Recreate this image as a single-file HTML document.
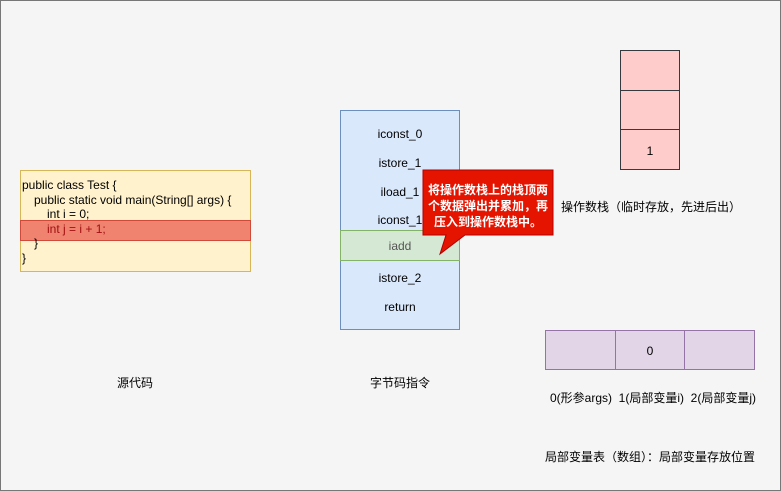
<!DOCTYPE html>
<html><head><meta charset="utf-8"><style>
body{margin:0;width:781px;height:491px;background:#f5f5f5;font-family:"Liberation Sans","Noto Sans CJK SC",sans-serif;font-size:12px;color:#000;overflow:hidden}
.a{position:absolute}
.frame{position:absolute;left:0;top:0;width:779px;height:489px;border:1px solid #777}
.c{position:absolute;text-align:center}
.code div{height:14.5px;white-space:nowrap}
</style></head><body>
<div class="frame"></div>
<!-- code box -->
<div class="a" style="left:20px;top:170px;width:229px;height:100px;background:#fff2cc;border:1px solid #d6b656"></div>
<div class="a" style="left:20px;top:220px;width:229px;height:19px;background:#f08370;border:1px solid #d04a3a"></div>
<div class="a code" style="left:22px;top:178px;line-height:14.5px;font-size:12px">
<div>public class Test {</div>
<div style="padding-left:12px">public static void main(String[] args) {</div>
<div style="padding-left:25px">int i = 0;</div>
<div style="padding-left:25px;color:#a01010">int j = i + 1;</div>
<div style="padding-left:12px">}</div>
<div>}</div>
</div>
<div class="c" style="left:100px;top:374px;width:70px">源代码</div>
<!-- bytecode -->
<div class="a" style="left:340px;top:110px;width:120px;height:220px;background:#dae8fc;border:1px solid #6c8ebf;box-sizing:border-box"></div>
<div class="a" style="left:340px;top:230px;width:120px;height:31px;background:#d5e8d4;border:1px solid #82b366;box-sizing:border-box"></div>
<div class="c" style="left:340px;top:127px;width:120px">iconst_0</div>
<div class="c" style="left:340px;top:156px;width:120px">istore_1</div>
<div class="c" style="left:340px;top:185px;width:120px">iload_1</div>
<div class="c" style="left:340px;top:213px;width:120px">iconst_1</div>
<div class="c" style="left:340px;top:239px;width:120px;color:#555">iadd</div>
<div class="c" style="left:340px;top:271px;width:120px">istore_2</div>
<div class="c" style="left:340px;top:300px;width:120px">return</div>
<div class="c" style="left:350px;top:374px;width:100px">字节码指令</div>
<!-- callout -->
<svg class="a" style="left:0;top:0" width="781" height="491"><path d="M423 170 H553 V235 H465 L440 254 L446 235 H423 Z" fill="#e51400" stroke="#b20000"/></svg>
<div class="c" style="left:423px;top:182px;width:130px;color:#fff;font-weight:bold;line-height:16px">将操作数栈上的栈顶两<br>个数据弹出并累加，再<br>压入到操作数栈中。</div>
<!-- stack -->
<div class="a" style="left:620px;top:50px;width:60px;height:120px;background:#ffcccc;border:1px solid #36393d;box-sizing:border-box"></div>
<div class="a" style="left:620px;top:90px;width:60px;height:40px;border-top:1px solid #36393d;border-bottom:1px solid #36393d;box-sizing:border-box"></div>
<div class="c" style="left:620px;top:144px;width:60px">1</div>
<div class="a" style="left:561px;top:198px;white-space:nowrap">操作数栈（临时存放，先进后出）</div>
<!-- locals -->
<div class="a" style="left:545px;top:330px;width:210px;height:40px;background:#e1d5e7;border:1px solid #9673a6;box-sizing:border-box"></div>
<div class="a" style="left:615px;top:330px;width:70px;height:40px;border-left:1px solid #9673a6;border-right:1px solid #9673a6;box-sizing:border-box"></div>
<div class="c" style="left:615px;top:344px;width:70px">0</div>
<div class="a" style="left:550px;top:389px;white-space:nowrap">0(形参args)&nbsp; 1(局部变量i)&nbsp; 2(局部变量j)</div>
<div class="a" style="left:545px;top:448px;white-space:nowrap">局部变量表（数组）：局部变量存放位置</div>
</body></html>
